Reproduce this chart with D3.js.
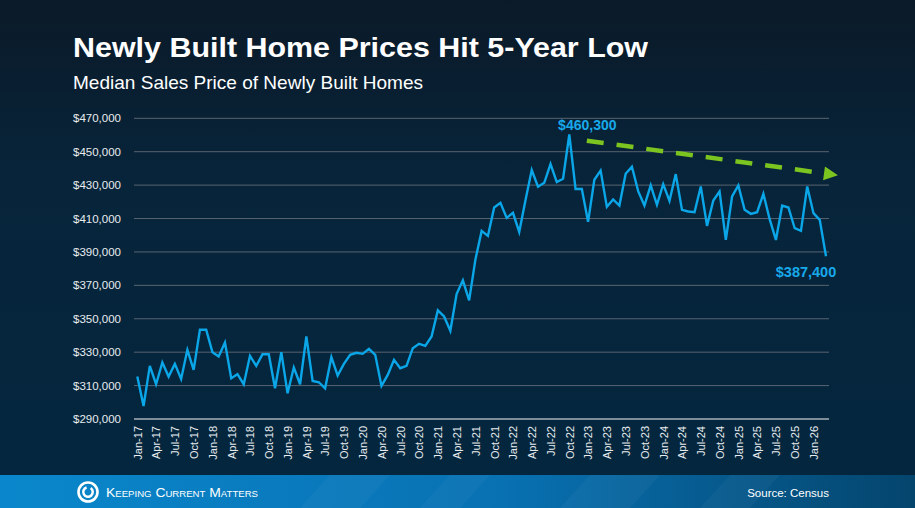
<!DOCTYPE html>
<html><head><meta charset="utf-8">
<script src="https://cdn.jsdelivr.net/npm/d3@7"></script>
<style>html,body{margin:0;padding:0;background:#06243a;}svg{display:block;}</style>
</head><body>
<svg id="chart" width="915" height="508"></svg>
<script>
// ---- data ----
const startMonth = new Date(2017, 0, 1);
const endMonth = new Date(2026, 3, 1); // exclusive -> last = Mar-26
const prices = [
  315400, 297800, 321800, 310800, 323800, 315400, 323000, 314000, 331400, 319400, 343400, 343400,
  330000, 327400, 335800, 314400, 316800, 310800, 327800, 321800, 328800, 328800, 308400, 330000,
  305400, 320800, 310800, 339400, 312800, 312000, 308400, 327000, 316000, 323000, 328400, 329600,
  329000, 332000, 328400, 309800, 316400, 325400, 320400, 321800, 332400, 335000, 333800, 339400,
  355000, 351400, 342800, 364800, 373000, 361000, 385400, 402600, 399600, 416600, 419400, 410400,
  413400, 402000, 421000, 439000, 429000, 431400, 442600, 431800, 433800, 460300, 427700, 427700,
  408000, 433200, 438700, 417000, 421400, 417800, 436800, 441000, 426400, 417800, 429900, 418200,
  430600, 420600, 436600, 415200, 414200, 413800, 429200, 405600, 420800, 426200, 397200, 423200,
  429800, 415200, 412800, 413800, 424800, 409600, 397200, 417800, 416600, 404200, 402600, 429200,
  413200, 409200, 387400
];
const yTicks = [290000, 310000, 330000, 350000, 370000, 390000, 410000, 430000, 450000, 470000];
const tickMonths = ["Jan", "Apr", "Jul", "Oct"];
const peakLabel = "$460,300";
const lastLabel = "$387,400";
const trendStart = {i: 71.8, v: 456600};
const trendEnd = {i: 111.9, v: 435900};
const title = "Newly Built Home Prices Hit 5-Year Low";
const subtitle = "Median Sales Price of Newly Built Homes";
const source = "Source: Census";
const brand = "Keeping Current Matters";

// ---- build ----
const months = d3.timeMonth.range(startMonth, endMonth);
const fmtM = d3.timeFormat("%b-%y");
const labels = months.map(fmtM);
const data = months.map((m, i) => ({label: labels[i], month: m, v: prices[i], i}));

const svg = d3.select("#chart");
const defs = svg.append("defs");
const bg = defs.append("linearGradient").attr("id", "bg").attr("x1", 0).attr("y1", 0).attr("x2", 0).attr("y2", 1);
bg.append("stop").attr("offset", "0%").attr("stop-color", "#0b1a28");
bg.append("stop").attr("offset", "35%").attr("stop-color", "#07243a");
bg.append("stop").attr("offset", "100%").attr("stop-color", "#03273f");
const ft = defs.append("linearGradient").attr("id", "ft").attr("x1", 0).attr("y1", 0).attr("x2", 1).attr("y2", 0);
ft.append("stop").attr("offset", "0%").attr("stop-color", "#0a87cc");
ft.append("stop").attr("offset", "55%").attr("stop-color", "#0871b2");
ft.append("stop").attr("offset", "100%").attr("stop-color", "#04456d");

svg.append("rect").attr("width", 915).attr("height", 508).attr("fill", "url(#bg)");

// footer
svg.append("rect").attr("x", 0).attr("y", 475).attr("width", 915).attr("height", 33).attr("fill", "url(#ft)");
[[300, 60], [420, 40], [560, 70], [700, 50]].forEach(([x0, w]) => {
  svg.append("polygon")
    .attr("points", `${x0},508 ${x0 + w},508 ${x0 + w + 30},475 ${x0 + 30},475`)
    .attr("fill", "#ffffff").attr("opacity", 0.035);
});

const ml = 134, mr = 829;
const x = d3.scalePoint().domain(labels).range([137.3, 826]);
const step = x.step();
const xi = i => x(labels[0]) + i * step;
const y = d3.scaleLinear().domain([290000, 470000]).range([419, 118.3]);

// grid
svg.append("g").selectAll("line").data(yTicks.slice(1)).join("line")
  .attr("x1", ml).attr("x2", mr).attr("y1", d => y(d)).attr("y2", d => y(d))
  .attr("stroke", "#5a6470").attr("stroke-width", 1);

// y labels
svg.append("g").selectAll("text").data(yTicks).join("text")
  .attr("x", 121).attr("y", d => y(d) + 4)
  .attr("text-anchor", "end").attr("fill", "#e8ecef")
  .attr("font-family", "Liberation Sans, Arial, sans-serif").attr("font-size", 11.5)
  .text(d => "$" + d3.format(",")(d));

// x axis
const xAxis = d3.axisBottom(x)
  .tickValues(labels.filter((l, i) => tickMonths.includes(l.slice(0, 3))))
  .tickSize(0).tickPadding(6);
const gx = svg.append("g").attr("transform", `translate(0,${y(290000)})`).call(xAxis);
gx.select(".domain").remove();
gx.selectAll("text")
  .attr("transform", "rotate(-90)").attr("text-anchor", "end")
  .attr("x", -7).attr("y", 0).attr("dy", "0.35em")
  .attr("fill", "#e8ecef").attr("font-family", "Liberation Sans, Arial, sans-serif").attr("font-size", 11);
svg.append("line").attr("x1", ml).attr("x2", mr).attr("y1", y(290000)).attr("y2", y(290000))
  .attr("stroke", "#a7b0b8").attr("stroke-width", 1.6);

// line
const line = d3.line().x(d => x(d.label)).y(d => y(d.v));
svg.append("path").datum(data).attr("d", line)
  .attr("fill", "none").attr("stroke", "#0aa6e8").attr("stroke-width", 2.4).attr("stroke-linejoin", "miter");

// trend arrow
const ax1 = xi(trendStart.i), ay1 = y(trendStart.v), ax2 = xi(trendEnd.i), ay2 = y(trendEnd.v);
const ang = Math.atan2(ay2 - ay1, ax2 - ax1);
const headLen = 14;
const bx = ax2 - headLen * Math.cos(ang), by = ay2 - headLen * Math.sin(ang);
svg.append("line").attr("x1", ax1).attr("y1", ay1).attr("x2", bx - 4 * Math.cos(ang)).attr("y2", by - 4 * Math.sin(ang))
  .attr("stroke", "#7cc41f").attr("stroke-width", 4.5).attr("stroke-dasharray", "17,13");
const hw = 7;
svg.append("polygon")
  .attr("points", [
    [ax2, ay2],
    [bx + hw * Math.sin(ang), by - hw * Math.cos(ang)],
    [bx - hw * Math.sin(ang), by + hw * Math.cos(ang)]
  ].map(p => p.join(",")).join(" "))
  .attr("fill", "#7cc41f");

// labels
const peakIdx = prices.indexOf(d3.max(prices));
svg.append("text").attr("x", x(labels[peakIdx]) + 18).attr("y", 130)
  .attr("text-anchor", "middle").attr("fill", "#18a9ea")
  .attr("font-family", "Liberation Sans, Arial, sans-serif").attr("font-weight", "bold").attr("font-size", 14)
  .text(peakLabel);
svg.append("text").attr("x", x(labels[labels.length - 1]) - 20).attr("y", 277)
  .attr("text-anchor", "middle").attr("fill", "#18a9ea")
  .attr("font-family", "Liberation Sans, Arial, sans-serif").attr("font-weight", "bold").attr("font-size", 14.5)
  .text(lastLabel);

// titles
svg.append("text").attr("x", 73).attr("y", 57.3).attr("fill", "#ffffff")
  .attr("font-family", "Liberation Sans, Arial, sans-serif").attr("font-weight", "bold").attr("font-size", 28.5)
  .attr("textLength", 575).attr("lengthAdjust", "spacingAndGlyphs")
  .text(title);
svg.append("text").attr("x", 73).attr("y", 89).attr("fill", "#ffffff")
  .attr("font-family", "Liberation Sans, Arial, sans-serif").attr("font-size", 18.5)
  .attr("textLength", 350).attr("lengthAdjust", "spacingAndGlyphs")
  .text(subtitle);

// footer brand
const logo = svg.append("g").attr("transform", "translate(88,492)");
logo.append("circle").attr("r", 9.5).attr("fill", "none").attr("stroke", "#fff").attr("stroke-width", 2.6);
logo.append("path").attr("d", d3.arc()({innerRadius: 3.5, outerRadius: 6, startAngle: 0.6, endAngle: 2 * Math.PI - 0.3})).attr("fill", "#fff");
svg.append("text").attr("x", 106).attr("y", 497).attr("fill", "#fff")
  .attr("font-family", "Liberation Sans Narrow, Liberation Sans, Arial, sans-serif").attr("font-size", 13)
  .attr("font-variant", "small-caps").attr("textLength", 152).attr("lengthAdjust", "spacingAndGlyphs")
  .text(brand);
svg.append("text").attr("x", 829).attr("y", 497).attr("text-anchor", "end").attr("fill", "#fff")
  .attr("font-family", "Liberation Sans, Arial, sans-serif").attr("font-size", 11.5)
  .text(source);
</script>
</body></html>
